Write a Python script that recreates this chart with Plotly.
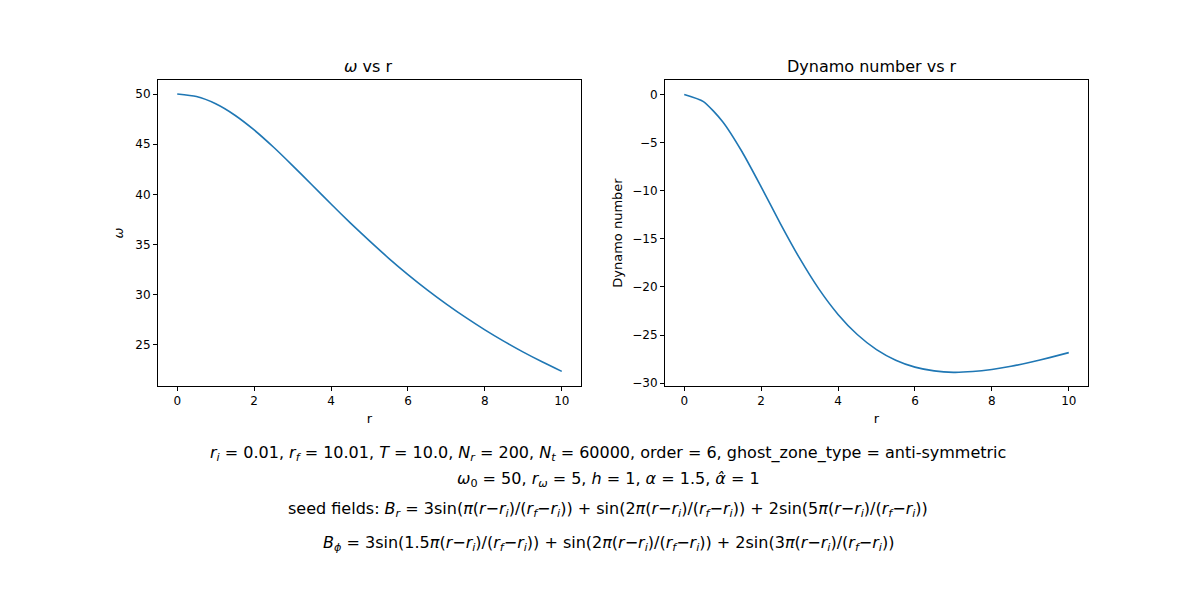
import plotly.graph_objects as go
from plotly.subplots import make_subplots

r = [0, 0.5, 1, 1.5, 2, 2.5, 3, 3.5, 4, 4.5, 5, 5.5, 6, 6.5, 7, 7.5, 8, 8.5, 9, 9.5, 10]
omega = [50.0, 49.75, 49.03, 47.89, 46.42, 44.72, 42.87, 40.96, 39.04, 37.16, 35.36,
         33.63, 32.01, 30.49, 29.07, 27.74, 26.50, 25.35, 24.28, 23.29, 22.36]
dynamo = [0.0, -0.74, -2.83, -5.93, -9.60, -13.42, -17.02, -20.21, -22.86, -24.95, -26.52,
          -27.62, -28.34, -28.73, -28.88, -28.80, -28.58, -28.25, -27.83, -27.35, -26.83]

fig = make_subplots(rows=1, cols=2)
blue = "#1f77b4"
fig.add_trace(go.Scatter(x=r, y=omega, mode="lines", line=dict(color=blue, width=1.6, shape="spline", smoothing=0.6)), 1, 1)
fig.add_trace(go.Scatter(x=r, y=dynamo, mode="lines", line=dict(color=blue, width=1.6, shape="spline", smoothing=0.6)), 1, 2)

ax = dict(showgrid=False, zeroline=False, showline=True, linecolor="black", mirror=True, automargin=False,
          ticks="outside", tickcolor="black", ticklen=4, tickfont=dict(size=12, color="black"))
fig.update_xaxes(**ax, range=[-0.5, 10.5], tickvals=[0, 2, 4, 6, 8, 10])
fig.update_yaxes(**ax)
fig.update_layout(
    width=1200, height=600, showlegend=False,
    paper_bgcolor="white", plot_bgcolor="white",
    font=dict(family="DejaVu Sans", color="black"),
    margin=dict(l=0, r=0, t=0, b=0, autoexpand=False),
    xaxis=dict(domain=[0.125, 0.4775], title=dict(text="r", font=dict(size=13), standoff=6)),
    xaxis2=dict(domain=[0.5475, 0.9], title=dict(text="r", font=dict(size=13), standoff=6)),
    yaxis=dict(domain=[0.37, 0.88], range=[20.9, 51.4], tickvals=[25, 30, 35, 40, 45, 50],
               title=dict(text="<i>ω</i>", font=dict(size=13), standoff=8)),
    yaxis2=dict(domain=[0.37, 0.88], range=[-30.3, 1.5], tickvals=[-30, -25, -20, -15, -10, -5, 0],
                title=dict(text="Dynamo number", font=dict(size=13), standoff=6)),
)

def txt(x, y, s, size=16):
    fig.add_annotation(x=x, y=y, xref="paper", yref="paper", text=s, showarrow=False,
                       font=dict(size=size, color="black"), xanchor="center", yanchor="middle")

txt(0.30, 1 - 58 / 600, "<i>ω</i> vs r", 16)
txt(0.72, 1 - 58 / 600, "Dynamo number vs r", 16)
txt(0.5, 1 - 445 / 600, "<i>r<sub>i</sub></i> = 0.01, <i>r<sub>f</sub></i> = 10.01, <i>T</i> = 10.0, "
    "<i>N<sub>r</sub></i> = 200, <i>N<sub>t</sub></i> = 60000, order = 6, ghost_zone_type = anti-symmetric")
txt(0.5, 1 - 471 / 600, "<i>ω</i><sub>0</sub> = 50, <i>r<sub>ω</sub></i> = 5, <i>h</i> = 1, "
    "<i>α</i> = 1.5, <i>α̂</i> = 1")
txt(0.5, 1 - 501 / 600, "seed fields: <i>B<sub>r</sub></i> = 3sin(<i>π</i>(<i>r</i>−<i>r<sub>i</sub></i>)/(<i>r<sub>f</sub></i>−<i>r<sub>i</sub></i>)) "
    "+ sin(2<i>π</i>(<i>r</i>−<i>r<sub>i</sub></i>)/(<i>r<sub>f</sub></i>−<i>r<sub>i</sub></i>)) "
    "+ 2sin(5<i>π</i>(<i>r</i>−<i>r<sub>i</sub></i>)/(<i>r<sub>f</sub></i>−<i>r<sub>i</sub></i>))")
txt(0.5, 1 - 535 / 600, "<i>B<sub>ϕ</sub></i> = 3sin(1.5<i>π</i>(<i>r</i>−<i>r<sub>i</sub></i>)/(<i>r<sub>f</sub></i>−<i>r<sub>i</sub></i>)) "
    "+ sin(2<i>π</i>(<i>r</i>−<i>r<sub>i</sub></i>)/(<i>r<sub>f</sub></i>−<i>r<sub>i</sub></i>)) "
    "+ 2sin(3<i>π</i>(<i>r</i>−<i>r<sub>i</sub></i>)/(<i>r<sub>f</sub></i>−<i>r<sub>i</sub></i>))")

fig.write_html("out.html")
